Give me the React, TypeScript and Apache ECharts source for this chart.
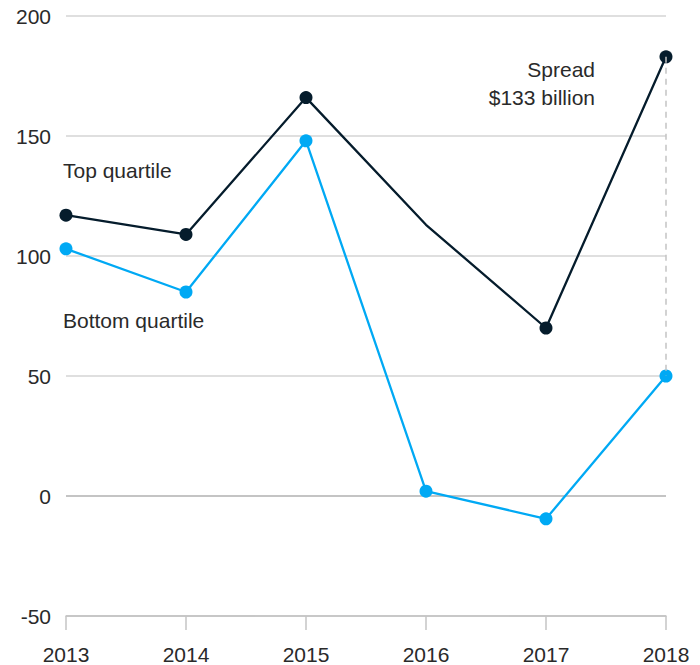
import React, { useEffect, useRef } from "react";
import * as echarts from "echarts";

const years = ["2013", "2014", "2015", "2016", "2017", "2018"];
const topQuartile = [117, 109, 166, 113, 70, 183];
const bottomQuartile = [103, 85, 148, 2, -9.5, 50];
const topMarkerShown = [true, true, true, false, true, true];
const yTicks = { min: -50, max: 200, interval: 50 };

const FONT = "Liberation Sans";
const DARK = "#051c2c";
const BLUE = "#00a9f4";
const TEXT = "#2a2a2a";

export default function App() {
  const ref = useRef<HTMLDivElement>(null);
  useEffect(() => {
    document.body.style.margin = "0";
    const chart = echarts.init(ref.current!, null, { renderer: "svg" });
    chart.setOption({
      animation: false,
      grid: { left: 66, right: 34, top: 16, bottom: 49, outerBoundsMode: "none" },
      xAxis: {
        type: "category",
        data: years,
        boundaryGap: false,
        axisLine: { onZero: false, lineStyle: { color: "#c4c4c4", width: 1.5 } },
        axisTick: { show: true, length: 14, lineStyle: { color: "#c4c4c4", width: 1.5 } },
        axisLabel: { color: TEXT, fontFamily: FONT, fontSize: 21, margin: 28 },
        splitLine: { show: false },
      },
      yAxis: {
        type: "value",
        min: yTicks.min,
        max: yTicks.max,
        interval: yTicks.interval,
        axisLine: { show: false },
        axisTick: { show: false },
        axisLabel: { color: TEXT, fontFamily: FONT, fontSize: 21, margin: 15, padding: [9, 0, 0, 0] },
        splitLine: {
          lineStyle: {
            color: ["#c4c4c4", "#b0b0b0", "#d4d4d4", "#d4d4d4", "#d4d4d4", "#d4d4d4"],
            width: 1.5,
          },
        },
      },
      series: [
        {
          name: "Bottom quartile",
          type: "line",
          data: bottomQuartile,
          symbol: "circle",
          symbolSize: 13,
          lineStyle: { color: BLUE, width: 2.3 },
          itemStyle: { color: BLUE },
          z: 3,
        },
        {
          name: "Top quartile",
          type: "line",
          data: topQuartile.map((v, i) => ({
            value: v,
            symbolSize: topMarkerShown[i] ? 13 : 0,
          })),
          symbol: "circle",
          lineStyle: { color: DARK, width: 2.3 },
          itemStyle: { color: DARK },
          z: 4,
          markLine: {
            silent: true,
            symbol: "none",
            label: { show: false },
            lineStyle: { color: "#c4c4c4", type: [6, 5], width: 1.5 },
            data: [
              [
                { coord: ["2018", topQuartile[5]] },
                { coord: ["2018", bottomQuartile[5]] },
              ],
            ],
          },
        },
      ],
      graphic: [
        {
          type: "text",
          x: 63,
          y: 160,
          style: { text: "Top quartile", fontFamily: FONT, fontSize: 21, fill: TEXT },
        },
        {
          type: "text",
          x: 63,
          y: 310,
          style: { text: "Bottom quartile", fontFamily: FONT, fontSize: 21, fill: TEXT },
        },
        {
          type: "text",
          x: 595,
          y: 55,
          style: {
            text: "Spread\n$133 billion",
            fontFamily: FONT,
            fontSize: 21,
            lineHeight: 28,
            align: "right",
            textAlign: "right",
            fill: TEXT,
          },
        },
      ],
    });
    return () => chart.dispose();
  }, []);
  return <div ref={ref} style={{ position: "absolute", left: 0, top: 0, width: 700, height: 665 }} />;
}
